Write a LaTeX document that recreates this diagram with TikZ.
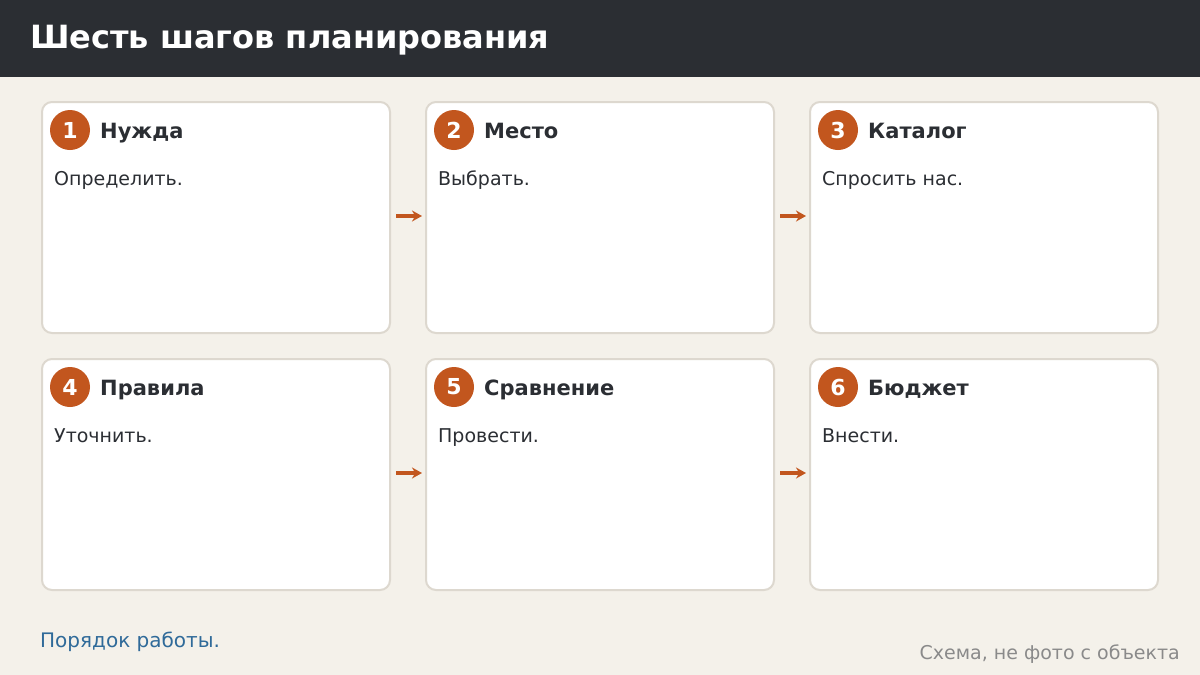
\documentclass[tikz,border=0pt]{standalone}
\usepackage{fontspec}
\setmainfont{DejaVu Sans}
\usetikzlibrary{arrows.meta,calc}
\definecolor{bg}{HTML}{F4F1EA}
\definecolor{hdr}{HTML}{2B2E33}
\definecolor{cardline}{HTML}{DDD8CF}
\definecolor{accent}{HTML}{C2561E}
\definecolor{txt}{HTML}{2B2E33}
\definecolor{foot}{HTML}{2F6A99}
\definecolor{note}{HTML}{8A8A8A}
\tikzset{
  card/.style={draw=cardline, line width=2pt, fill=white, rounded corners=10pt, minimum width=348pt, minimum height=231pt, anchor=north west, inner sep=0pt},
  badge/.style={circle, fill=accent, minimum size=40pt, inner sep=0pt, text=white, font=\fontsize{22}{26}\selectfont\bfseries},
  cardtitle/.style={anchor=base west, inner sep=0pt, text=txt, font=\fontsize{21}{25}\selectfont\bfseries},
  cardbody/.style={anchor=base west, inner sep=0pt, text=txt, font=\fontsize{19}{22}\selectfont},
  flow/.style={draw=accent, line width=3.2pt, -{Stealth[length=10pt,width=11pt]}, shorten <=5pt, shorten >=3pt}
}
\begin{document}
\begin{tikzpicture}[x=1pt,y=-1pt]
\useasboundingbox (0,0) rectangle (1200,675);
\fill[bg] (0,0) rectangle (1200,675);
\fill[hdr] (0,0) rectangle (1200,77);
\node[anchor=base west, inner sep=0pt, text=white, font=\fontsize{32}{38}\selectfont\bfseries] (title) at (30,48) {Шесть шагов планирования};
\foreach \i/\x/\y/\t/\b in {1/41/101/Нужда/Определить., 2/425/101/Место/Выбрать., 3/809/101/Каталог/Спросить нас., 4/41/358/Правила/Уточнить., 5/425/358/Сравнение/Провести., 6/809/358/Бюджет/Внести.}{
  \node[card] (card\i) at (\x,\y) {};
  \node[badge] (n\i) at ($(card\i.north west)+(29,29)$) {\i};
  \node[cardtitle] (t\i) at ($(card\i.north west)+(59,37)$) {\t};
  \node[cardbody] (b\i) at ($(card\i.north west)+(13,84)$) {\b};
}
\draw[flow] ($(card1.east)+(0,-1.5)$) -- ($(card2.west)+(0,-1.5)$);
\draw[flow] ($(card2.east)+(0,-1.5)$) -- ($(card3.west)+(0,-1.5)$);
\draw[flow] ($(card4.east)+(0,-1.5)$) -- ($(card5.west)+(0,-1.5)$);
\draw[flow] ($(card5.east)+(0,-1.5)$) -- ($(card6.west)+(0,-1.5)$);
\node[anchor=base west, inner sep=0pt, text=foot, font=\fontsize{20}{24}\selectfont] (footer) at (40,647) {Порядок работы.};
\node[anchor=base east, inner sep=0pt, text=note, font=\fontsize{19}{22}\selectfont] (note) at (1180,659) {Схема, не фото с объекта};
\end{tikzpicture}
\end{document}
